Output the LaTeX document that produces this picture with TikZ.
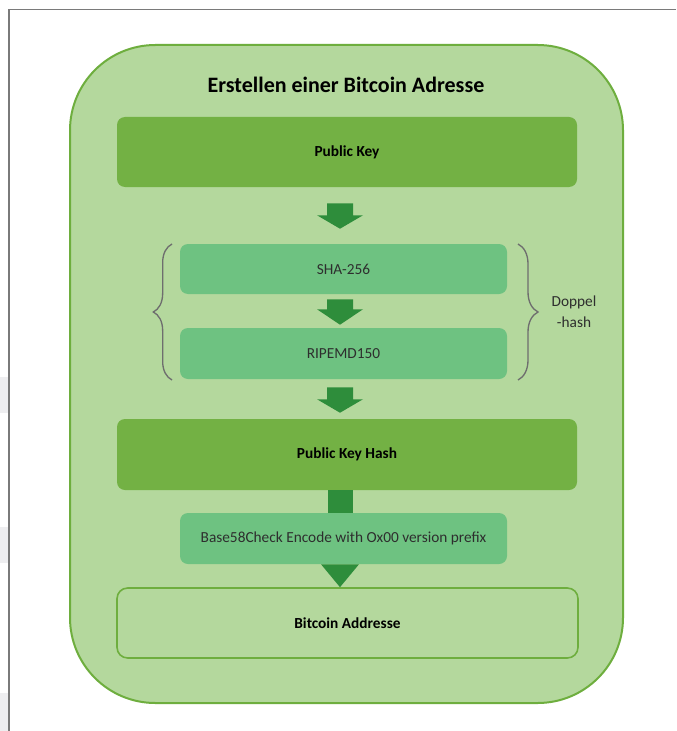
\documentclass[tikz,border=0pt]{standalone}
\usepackage{fontspec}
\setmainfont{Carlito}
\usetikzlibrary{calc,decorations.pathreplacing}
\definecolor{bgc}{HTML}{B4D89D}
\definecolor{darkg}{HTML}{73B144}
\definecolor{midg}{HTML}{6EC281}
\definecolor{arrg}{HTML}{2E8D3B}
\definecolor{bordg}{HTML}{6EAE3E}
\definecolor{framec}{HTML}{7A7A7A}
\definecolor{bracec}{HTML}{6E6E6E}
\definecolor{txtc}{HTML}{2E2E2E}
\definecolor{faint}{HTML}{EEEEF0}
\tikzset{
  darkbox/.style={fill=darkg, rounded corners=6pt, inner sep=0pt, minimum width=345pt, font=\fontsize{11.5}{13}\selectfont\bfseries, text=black},
  midbox/.style={fill=midg, rounded corners=6pt, inner sep=0pt, minimum width=245.25pt, font=\fontsize{11.5}{13}\selectfont, text=txtc},
  arr/.style={fill=arrg},
  bracestyle/.style={draw=bracec, line width=1pt, decorate},
}
\begin{document}
\begin{tikzpicture}[x=0.75pt,y=-0.75pt]
\useasboundingbox (0,0) rectangle (676,731);
\fill[white] (0,0) rectangle (676,731);
% faint marks outside frame
\fill[faint] (0,377) rectangle (8,413);
\fill[faint] (0,527) rectangle (8,563);
\fill[faint] (0,693) rectangle (8,731);
% frame
\draw[framec, line width=1.2pt] (9,731) -- (9,9.5) -- (676,9.5);
% outer container
\node (outer) [draw=bordg, line width=1.5pt, fill=bgc, rounded corners=64pt, minimum width=414.75pt, minimum height=493.5pt, inner sep=0pt] at (346.5,374) {};
\node (title) at (346,85) {\fontsize{16.5}{19}\selectfont\bfseries Erstellen einer Bitcoin Adresse};
% boxes
\node (pk)  [darkbox, minimum height=52.5pt] at (347,152) {Public Key};
\node (sha) [midbox, minimum height=37.5pt] at (343.5,269) {SHA-256};
\node (rip) [midbox, minimum height=38.25pt] at (343.5,353.5) {RIPEMD150};
\node (pkh) [darkbox, minimum height=53.25pt] at (347,454.5) {Public Key Hash};
\node (b58) [midbox, minimum height=38.25pt] at (343.5,538.5) {Base58Check Encode with Ox00 version prefix};
\node (btc) [draw=bordg, line width=1.2pt, fill=bgc, rounded corners=8pt, minimum width=345.75pt, minimum height=52.5pt, inner sep=0pt, font=\fontsize{11.5}{13}\selectfont\bfseries] at (347.5,623) {Bitcoin Addresse};
% arrow axis
\coordinate (ax) at (340,0);
% arrow pk -> sha
\fill[arr] ($(ax |- pk.south)+(-13,16)$) -- ++(26,0) -- ++(0,12) -- ++(10,0)
  -- ($(ax |- sha.north)+(0,-15)$) -- ($(ax |- pk.south)+(-23,28)$) -- ($(ax |- pk.south)+(-13,28)$) -- cycle;
% arrow sha -> rip
\fill[arr] ($(ax |- sha.south)+(-13,5)$) -- ++(26,0) -- ++(0,10) -- ++(10,0)
  -- ($(ax |- rip.north)+(0,-3)$) -- ($(ax |- sha.south)+(-23,15)$) -- ($(ax |- sha.south)+(-13,15)$) -- cycle;
% arrow rip -> pkh
\fill[arr] ($(ax |- rip.south)+(-13,8)$) -- ++(26,0) -- ++(0,12) -- ++(10,0)
  -- ($(ax |- pkh.north)+(0,-6)$) -- ($(ax |- rip.south)+(-23,20)$) -- ($(ax |- rip.south)+(-13,20)$) -- cycle;
% connector pkh -> b58
\fill[arr] ($(ax |- pkh.south)+(-12.5,0)$) rectangle ($(ax |- b58.north)+(12.5,0)$);
% triangle b58 -> btc
\fill[arr] ($(ax |- b58.south)+(-19,0)$) -- ($(ax |- b58.south)+(19,0)$) -- (ax |- btc.north) -- cycle;
% braces
\draw[bracestyle, decoration={brace, amplitude=14pt}] (172,380) -- (172,244);
\draw[bracestyle, decoration={brace, amplitude=15pt}] (518,244) -- (518,380);
\node (dh) [align=center, text=txtc, font=\fontsize{11.5}{15.75}\selectfont] at (574,312) {Doppel\\-hash};
\end{tikzpicture}
\end{document}
